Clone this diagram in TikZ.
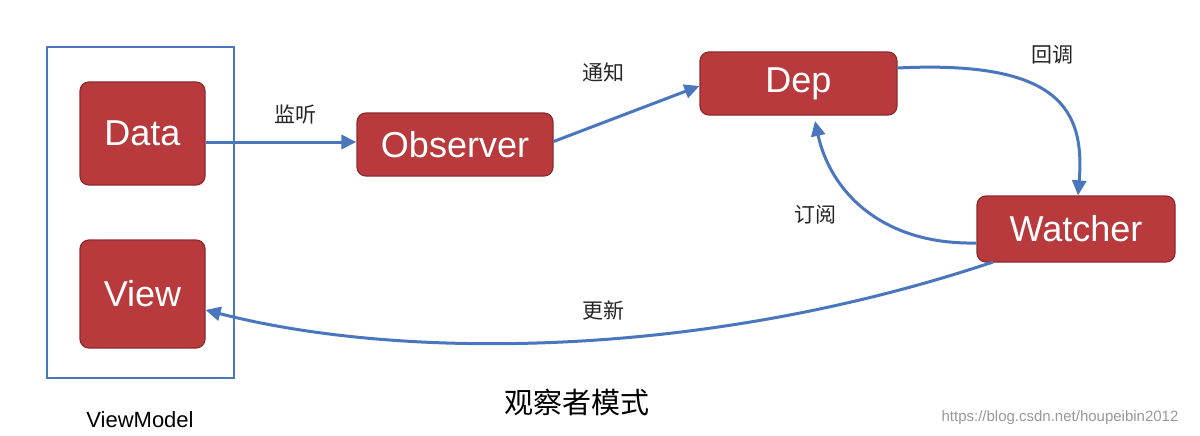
\documentclass[tikz,border=0pt]{standalone}
\usepackage{fontspec}
\setmainfont{Liberation Sans}
\newfontfamily\cjk{Noto Sans CJK SC}
\usetikzlibrary{arrows.meta}
\definecolor{boxred}{HTML}{B83A3C}
\definecolor{boxedge}{HTML}{8E2A2C}
\definecolor{arr}{HTML}{4A76BE}
\tikzset{
 rbox/.style={draw=boxedge,line width=1.2pt,fill=boxred,rounded corners=9pt,text=white,font=\fontsize{36}{38}\selectfont,inner sep=0pt},
 conn/.style={draw=arr,line width=3pt,-{Triangle[length=15pt,width=14pt]}},
 lbl/.style={font=\cjk\fontsize{21}{23}\selectfont,text=black!85}
}
\begin{document}
\begin{tikzpicture}[x=1pt,y=-1pt]
\path[use as bounding box,fill=white] (0,0) rectangle (1200,436);
\node[draw=arr,line width=1.5pt,minimum width=187pt,minimum height=331pt,inner sep=0pt] (vm) at (140.5,212.5) {};
\node[rbox,minimum width=125pt,minimum height=103pt] (data) at (142.5,133.5) {Data};
\node[rbox,minimum width=125pt,minimum height=108pt] (view) at (142.5,294) {View};
\node[rbox,minimum width=196pt,minimum height=63pt] (obs) at (455,144.5) {Observer};
\node[rbox,minimum width=197pt,minimum height=63pt] (dep) at (798.5,83.5) {Dep};
\node[rbox,minimum width=198pt,minimum height=66pt] (wat) at (1076,229) {Watcher};
\node[font=\fontsize{22}{24}\selectfont] (vml) at (140,420) {ViewModel};
\node[font=\cjk\fontsize{29}{31}\selectfont] (title) at (577,402) {观察者模式};
\node[font=\fontsize{15}{17}\selectfont,text=black!40] (wm) at (1060,418) {https://blog.csdn.net/houpeibin2012};
\draw[conn] (data.east |- 0,142) -- (obs.west |- 0,142);
\node[lbl] (l1) at (295,115) {监听};
\draw[conn] (obs.east) ++(0,-3) coordinate (o1) (o1) -- (dep.west |- 0,86);
\node[lbl] (l2) at (603,72) {通知};
\coordinate (d1) at (dep.east |- 0,68);
\coordinate (w1) at (wat.north -| 1078,0);
\draw[conn] (d1) .. controls (1060,60) and (1085,110) .. (w1);
\node[lbl] (l3) at (1052,55) {回调};
\coordinate (w2) at (wat.west |- 0,243);
\draw[conn] (w2) .. controls (880,245) and (830,190) .. (815,121);
\node[lbl] (l4) at (815,215) {订阅};
\coordinate (w3) at (993,262);
\draw[conn] (w3) .. controls (700,360) and (400,360) .. (view.east |- 0,310);
\node[lbl] (l5) at (603,310) {更新};
\end{tikzpicture}
\end{document}
